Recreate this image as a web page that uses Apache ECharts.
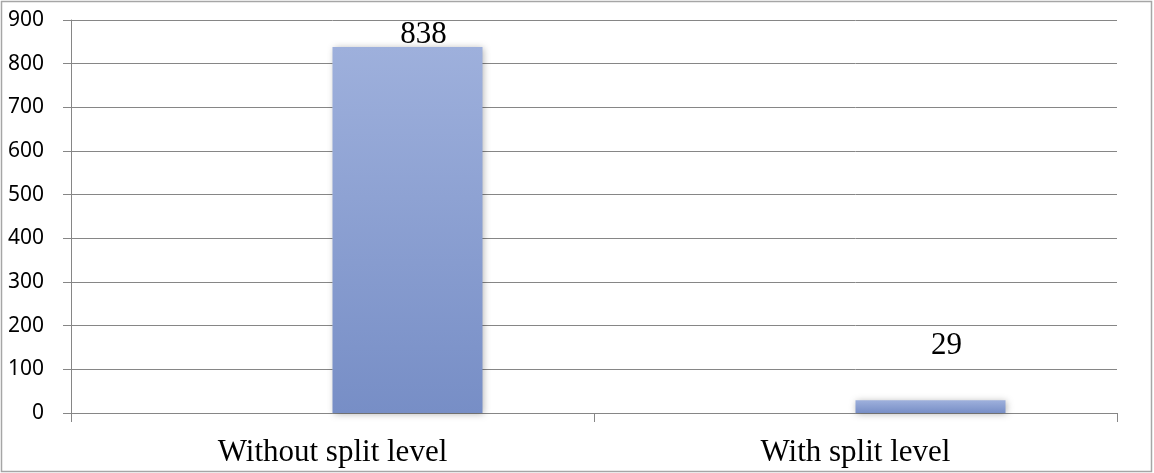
<!DOCTYPE html>
<html>
<head>
<meta charset="utf-8">
<script src="https://cdn.jsdelivr.net/npm/echarts@6/dist/echarts.min.js"></script>
<style>
  html, body { margin: 0; padding: 0; background: #ffffff; }
  #chart { width: 1154px; height: 473px; }
</style>
</head>
<body>
<div id="chart"></div>
<script>
// Category names along the horizontal axis
const categories = ['Without split level', 'With split level'];
// Measured counts for each configuration
const counts = [838, 29];
// Vertical axis range
const yMin = 0;
const yMax = 900;
const yStep = 100;

const chart = echarts.init(document.getElementById('chart'));

const barFill = new echarts.graphic.LinearGradient(0, 0, 0, 1, [
  { offset: 0, color: '#9eb0dc' },
  { offset: 1, color: '#778ec6' }
]);

// Per-bar label lift above the bar top
const labelLift = [-4, 38];

chart.setOption({
  animation: false,
  backgroundColor: '#ffffff',
  graphic: [{
    type: 'rect',
    shape: { x: 1.5, y: 1.5, width: 1150, height: 470 },
    style: { fill: 'none', stroke: '#a6a6a6', lineWidth: 1.5 },
    silent: true
  }],
  grid: { left: 71, right: 37, top: 20, bottom: 60 },
  xAxis: {
    type: 'category',
    data: categories,
    axisLine: { show: true, lineStyle: { color: '#868686', width: 1 } },
    axisTick: { show: true, length: 9, lineStyle: { color: '#868686' } },
    axisLabel: {
      color: '#000000',
      fontFamily: 'Liberation Serif',
      fontSize: 31,
      margin: 24
    }
  },
  yAxis: {
    type: 'value',
    min: yMin,
    max: yMax,
    interval: yStep,
    axisLine: { show: true, lineStyle: { color: '#868686', width: 1 } },
    axisTick: { show: true, length: 8, lineStyle: { color: '#868686' } },
    splitLine: { show: true, lineStyle: { color: '#868686', width: 1 } },
    axisLabel: {
      color: '#000000',
      fontFamily: 'Noto Sans',
      fontSize: 21,
      margin: 27
    }
  },
  series: [
    {
      // empty companion series that holds the left half of each category slot
      type: 'bar',
      data: categories.map(() => null),
      barWidth: 150,
      barGap: '0%'
    },
    {
      type: 'bar',
      data: counts.map((v, i) => ({
        value: v,
        label: { offset: [16, -labelLift[i]] }
      })),
      barWidth: 150,
      barGap: '0%',
      itemStyle: {
        color: barFill,
        shadowColor: 'rgba(0,0,0,0.3)',
        shadowBlur: 7,
        shadowOffsetX: 1,
        shadowOffsetY: 1
      },
      label: {
        show: true,
        position: 'top',
        distance: 1,
        color: '#000000',
        fontFamily: 'Liberation Serif',
        fontSize: 31
      }
    }
  ]
});
</script>
</body>
</html>
